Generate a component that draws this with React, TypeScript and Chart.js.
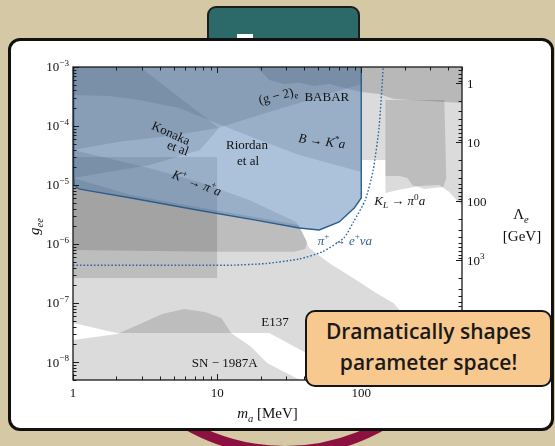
import React, { useEffect, useRef } from 'react';
import { Chart, registerables } from 'chart.js';

Chart.register(...registerables);

// ---------- data (mass in MeV, coupling g_ee) ----------
const xMin = 1;
const xMax = 500;
const yMin = 5e-9;
const yMax = 1e-3;
const lambdaConst = 5.3e-4; // Λ_e [GeV] = lambdaConst / g_ee

const xTickValues = [1, 10, 100];
const xTickLabels = ['1', '10', '100'];
const yTickValues = [1e-8, 1e-7, 1e-6, 1e-5, 1e-4, 1e-3];
const yTickExponents = ['−8', '−7', '−6', '−5', '−4', '−3'];
const lambdaTickValues = [1, 10, 100, 1000];
const lambdaTickBases = ['1', '10', '100', '10'];
const lambdaTickExponents = ['', '', '', '3'];

// π+ → e+ ν a (dotted)
const piMass = [1, 7.5, 12.7, 21.9, 37.1, 53.5, 75.7, 88.5, 106.6, 121, 133, 142];
const piCoupling = [4.4e-7, 4.4e-7, 4.4e-7, 4.7e-7, 5.6e-7, 7.4e-7, 1.27e-6, 2.4e-6, 5.6e-6, 1.8e-5, 9.6e-5, 1e-3];

// blue excluded region
const blueMass = [1.01, 1.01, 1.02, 1.1, 1.19, 2.53, 7.26, 18.1, 37.1, 51.1, 70.3, 89.4, 100, 100];
const blueCoupling = [1e-3, 1.48e-5, 1.0e-5, 8.6e-6, 8.3e-6, 6.05e-6, 3.79e-6, 2.57e-6, 1.88e-6, 1.74e-6, 2.37e-6, 4.1e-6, 6.05e-6, 1e-3];

// (g-2)e / BABAR
const babarMass = [18.9, 23.0, 29.2, 37.1, 47.2, 59.9, 76.2, 100, 133, 169, 215, 297, 500, 500];
const babarCoupling = [1e-3, 6.0e-4, 5.15e-4, 5.4e-4, 4.77e-4, 5.15e-4, 4.41e-4, 3.77e-4, 3.49e-4, 2.87e-4, 2.76e-4, 2.66e-4, 2.46e-4, 1e-3];

const gm2Mass = [1, 1, 2.09, 4.64, 10.2, 19.6, 43.5, 100, 100];
const gm2Coupling = [1e-3, 3.93e-5, 5.4e-5, 6.8e-5, 9.3e-5, 1.54e-4, 2.76e-4, 5.15e-4, 1e-3];

const konakaMass = [1, 1, 1.78, 2.87, 5.45, 10.2, 19.6, 37.1, 100, 100];
const konakaCoupling = [1e-3, 3.36e-4, 3.23e-4, 2.76e-4, 2.02e-4, 1.08e-4, 5.8e-5, 3.24e-5, 1.67e-5, 1e-3];

const wedgeMass = [1, 2.92, 10.3, 7.6, 3.42, 1];
const wedgeCoupling = [1e-3, 1e-3, 9.3e-5, 3.93e-5, 2.19e-5, 1.32e-5];

const boxMass = [1, 10, 10, 1];
const boxCoupling = [3.0e-5, 3.0e-5, 2.67e-7, 2.67e-7];

const bandMass = [1, 3.37, 7.5, 16.7, 35.4, 42.2, 40.8, 34.3, 10, 1];
const bandCoupling = [3.93e-5, 1.95e-5, 1.13e-5, 5.6e-6, 2.37e-6, 1.09e-6, 8.3e-7, 7.4e-7, 7.4e-7, 7.96e-7];

const e137Mass = [1, 2.53, 7.26, 18.1, 37.1, 43.5, 59.9, 92.3, 127, 167, 297, 133, 40.2, 23.0, 12.5, 2.02, 1];
const e137Coupling = [1.32e-5, 6.8e-6, 4.26e-6, 2.89e-6, 2.11e-6, 8.6e-7, 4.8e-7, 2.47e-7, 1.49e-7, 1.01e-7, 1.96e-8, 6.85e-9, 1.49e-8, 3.13e-8, 3.13e-8, 3.13e-8, 4.6e-8];

const snMass = [1, 2.02, 2.92, 4.15, 5.9, 8.25, 10.7, 12.5, 17.2, 22.2, 40.2, 1];
const snCoupling = [2.38e-8, 3.0e-8, 4.44e-8, 6.57e-8, 7.98e-8, 7.1e-8, 5.6e-8, 3.13e-8, 1.82e-8, 9.7e-9, 4.6e-9, 4.6e-9];

const klMass = [100, 500, 500, 457, 408, 348, 253, 184, 147, 147, 100];
const klCoupling = [1e-3, 1e-3, 4.6e-6, 5.6e-6, 7.65e-6, 1.0e-5, 9.65e-6, 8.3e-6, 7.36e-6, 2.66e-5, 2.66e-5];

const klCoreMass = [147, 377, 389, 371, 274, 226, 209, 184, 147];
const klCoreCoupling = [2.76e-4, 2.76e-4, 1.32e-5, 9.3e-6, 8.6e-6, 1.0e-5, 1.32e-5, 1.43e-5, 1.43e-5];

// ---------- annotation text (positions in data coordinates) ----------
type Seg = { t: string; i?: boolean; sup?: boolean; sub?: boolean };
const annotations: { segs: Seg[]; m: number; g: number; rot: number; color?: string }[] = [
  { segs: [{ t: '(g − 2)' }, { t: 'e', sub: true }], m: 26.4, g: 3.3e-4, rot: -14 },
  { segs: [{ t: 'BABAR' }], m: 57.7, g: 3.2e-4, rot: 0 },
  { segs: [{ t: 'Konaka' }], m: 4.78, g: 7.6e-5, rot: 24 },
  { segs: [{ t: 'et al' }], m: 5.35, g: 4.26e-5, rot: 20 },
  { segs: [{ t: 'Riordan' }], m: 16.1, g: 4.78e-5, rot: 0 },
  { segs: [{ t: 'et al' }], m: 16.4, g: 2.56e-5, rot: 0 },
  { segs: [{ t: 'B', i: true }, { t: ' → ' }, { t: 'K', i: true }, { t: '*', sup: true }, { t: 'a', i: true }], m: 53.3, g: 5.6e-5, rot: 8 },
  { segs: [{ t: 'K', i: true }, { t: '+', sup: true }, { t: ' → ' }, { t: 'π', i: true }, { t: '+', sup: true }, { t: 'a', i: true }], m: 7.24, g: 1.09e-5, rot: 21 },
  { segs: [{ t: 'K', i: true }, { t: 'L', i: true, sub: true }, { t: ' → ' }, { t: 'π', i: true }, { t: '0', sup: true }, { t: 'a', i: true }], m: 185, g: 5.4e-6, rot: 0 },
  { segs: [{ t: 'π', i: true }, { t: '+', sup: true }, { t: ' → ' }, { t: 'e', i: true }, { t: '+', sup: true }, { t: 'νa', i: true }], m: 77, g: 1.15e-6, rot: 0, color: '#2d5f91' },
  { segs: [{ t: 'E137' }], m: 25.2, g: 4.8e-8, rot: 0 },
  { segs: [{ t: 'SN − 1987A' }], m: 11.3, g: 9.7e-9, rot: 0 },
];

const SERIF = '"Liberation Serif", "Times New Roman", serif';

function drawRich(ctx: CanvasRenderingContext2D, segs: Seg[], x: number, y: number, size: number, align: 'left' | 'center' | 'right', rot: number, color: string) {
  const fontOf = (s: Seg) => `${s.i ? 'italic ' : ''}${s.sup || s.sub ? size * 0.7 : size}px ${SERIF}`;
  let w = 0;
  const ws = segs.map((s) => {
    ctx.font = fontOf(s);
    const m = ctx.measureText(s.t).width;
    w += m;
    return m;
  });
  ctx.save();
  ctx.translate(x, y);
  if (rot) ctx.rotate((rot * Math.PI) / 180);
  let cx = align === 'left' ? 0 : align === 'right' ? -w : -w / 2;
  ctx.fillStyle = color;
  ctx.textAlign = 'left';
  ctx.textBaseline = 'alphabetic';
  const base = size * 0.33;
  segs.forEach((s, k) => {
    ctx.font = fontOf(s);
    const dy = s.sup ? -size * 0.42 : s.sub ? size * 0.24 : 0;
    ctx.fillText(s.t, cx, base + dy);
    cx += ws[k];
  });
  ctx.restore();
}

const toPoints = (xs: number[], ys: number[]) => xs.map((x, i) => ({ x, y: ys[i] }));

const decorPlugin = {
  id: 'decor',
  afterDraw(chart: any) {
    const { ctx, chartArea: a, scales } = chart;
    const sx = scales.x;
    const sy = scales.y;
    const sl = scales.y2;
    ctx.save();
    ctx.strokeStyle = '#1a1a1a';
    const seg = (x1: number, y1: number, x2: number, y2: number) => {
      ctx.beginPath();
      ctx.moveTo(x1, y1);
      ctx.lineTo(x2, y2);
      ctx.stroke();
    };
    ctx.lineWidth = 1;
    for (let d = 0; d <= 2; d++) {
      for (let j = 1; j <= 9; j++) {
        const v = j * Math.pow(10, d);
        if (v < xMin || v > xMax) continue;
        const px = Math.round(sx.getPixelForValue(v)) + 0.5;
        const len = j === 1 ? 6 : 3.5;
        seg(px, a.bottom, px, a.bottom - len);
        seg(px, a.top, px, a.top + len);
      }
    }
    for (let d = -9; d <= -3; d++) {
      for (let j = 1; j <= 9; j++) {
        const v = j * Math.pow(10, d);
        if (v < yMin * 0.999 || v > yMax * 1.001) continue;
        const py = Math.round(sy.getPixelForValue(v)) + 0.5;
        const len = j === 1 ? 6 : 3.5;
        seg(a.left, py, a.left + len, py);
      }
    }
    for (let d = -1; d <= 5; d++) {
      for (let j = 1; j <= 9; j++) {
        const v = j * Math.pow(10, d);
        if (v < sl.min || v > sl.max) continue;
        const py = Math.round(sl.getPixelForValue(v)) + 0.5;
        const len = j === 1 ? 6 : 3.5;
        seg(a.right, py, a.right - len, py);
      }
    }
    ctx.lineWidth = 1.3;
    ctx.strokeRect(a.left, a.top, a.right - a.left, a.bottom - a.top);

    xTickValues.forEach((v, i) => {
      drawRich(ctx, [{ t: xTickLabels[i] }], sx.getPixelForValue(v), a.bottom + 13, 13, 'center', 0, '#111');
    });
    yTickValues.forEach((v, i) => {
      drawRich(ctx, [{ t: '10' }, { t: yTickExponents[i], sup: true }], a.left - 4, sy.getPixelForValue(v), 13, 'right', 0, '#111');
    });
    lambdaTickValues.forEach((v, i) => {
      const segs: Seg[] = [{ t: lambdaTickBases[i] }];
      if (lambdaTickExponents[i]) segs.push({ t: lambdaTickExponents[i], sup: true });
      drawRich(ctx, segs, a.right + 5, sl.getPixelForValue(v), 13, 'left', 0, '#111');
    });

    annotations.forEach((an) => {
      drawRich(ctx, an.segs, sx.getPixelForValue(an.m), sy.getPixelForValue(an.g), 13, 'center', an.rot, an.color || '#111');
    });

    drawRich(ctx, [{ t: 'g', i: true }, { t: 'ee', i: true, sub: true }], 22, (a.top + a.bottom) / 2 + 3, 15, 'center', -90, '#111');
    drawRich(ctx, [{ t: 'm', i: true }, { t: 'a', i: true, sub: true }, { t: ' [MeV]' }], (a.left + a.right) / 2, a.bottom + 33, 15, 'center', 0, '#111');
    drawRich(ctx, [{ t: 'Λ' }, { t: 'e', i: true, sub: true }], a.right + 59, a.top + 147, 15, 'center', 0, '#111');
    drawRich(ctx, [{ t: '[GeV]' }], a.right + 60, a.top + 169, 15, 'center', 0, '#111');
    ctx.restore();
  },
};

const GREY = 'rgba(0,0,0,0.14)';
const CLEAR = 'rgba(0,0,0,0)';

export default function App() {
  const ref = useRef<HTMLCanvasElement>(null);
  useEffect(() => {
    const region = (label: string, xs: number[], ys: number[], fillColor: string) => ({
      label,
      data: toPoints(xs, ys),
      showLine: true,
      fill: 'shape',
      backgroundColor: fillColor,
      borderColor: CLEAR,
      borderWidth: 0.01,
      pointRadius: 0,
      tension: 0,
    });
    const chart = new Chart(ref.current as HTMLCanvasElement, {
      type: 'scatter',
      data: {
        datasets: [
          {
            label: 'π+ → e+ν a',
            data: toPoints(piMass, piCoupling),
            showLine: true,
            fill: false,
            borderColor: '#2d65a0',
            borderWidth: 1.4,
            borderDash: [1.6, 1.9],
            pointRadius: 0,
            tension: 0.2,
          },
          {
            label: 'blue',
            data: toPoints(blueMass, blueCoupling),
            showLine: true,
            fill: 'shape',
            backgroundColor: 'rgba(70,120,175,0.45)',
            borderColor: '#2b5d8e',
            borderWidth: 1.4,
            pointRadius: 0,
            tension: 0,
          },
          region('BABAR', babarMass, babarCoupling, 'rgba(0,0,0,0.16)'),
          region('(g-2)e', gm2Mass, gm2Coupling, GREY),
          region('Konaka', konakaMass, konakaCoupling, GREY),
          region('wedge', wedgeMass, wedgeCoupling, GREY),
          region('box', boxMass, boxCoupling, GREY),
          region('band', bandMass, bandCoupling, GREY),
          region('E137', e137Mass, e137Coupling, GREY),
          region('SN1987A', snMass, snCoupling, GREY),
          region('KL', klMass, klCoupling, GREY),
          region('KLcore', klCoreMass, klCoreCoupling, GREY),
        ] as any,
      },
      options: {
        animation: false,
        responsive: false,
        devicePixelRatio: 1,
        events: [],
        layout: { padding: { left: 61, top: 25, right: 86, bottom: 48 } },
        plugins: { legend: { display: false }, tooltip: { enabled: false } },
        scales: {
          x: { type: 'logarithmic', min: xMin, max: xMax, display: false },
          y: { type: 'logarithmic', min: yMin, max: yMax, display: false },
          y2: {
            type: 'logarithmic',
            position: 'right',
            min: lambdaConst / yMax,
            max: lambdaConst / yMin,
            reverse: true,
            display: false,
          },
        },
      } as any,
      plugins: [decorPlugin],
    });
    return () => chart.destroy();
  }, []);

  return (
    <div style={{ position: 'absolute', left: 0, top: 0, width: 555, height: 446, overflow: 'hidden', background: '#d5c9a5' }}>
      <div
        style={{
          position: 'absolute',
          left: 82,
          top: 50,
          width: 406,
          height: 406,
          borderRadius: '50%',
          border: '10px solid #8d1140',
          boxSizing: 'border-box',
        }}
      />
      <div
        style={{
          position: 'absolute',
          left: 207,
          top: 6,
          width: 153,
          height: 60,
          borderRadius: 9,
          background: '#2c6a6a',
          border: '2.5px solid #1c1c1c',
          boxSizing: 'border-box',
        }}
      />
      <div style={{ position: 'absolute', left: 237, top: 34, width: 16, height: 6, background: '#ffffff' }} />
      <div
        style={{
          position: 'absolute',
          left: 8,
          top: 38,
          width: 546,
          height: 393,
          borderRadius: 12,
          border: '3px solid #111',
          background: '#ffffff',
          boxSizing: 'border-box',
        }}
      />
      <canvas ref={ref} width={536} height={386} style={{ position: 'absolute', left: 12, top: 42, width: 536, height: 386 }} />
      <div
        style={{
          position: 'absolute',
          left: 305,
          top: 310,
          width: 247,
          height: 77,
          boxSizing: 'border-box',
          border: '2.5px solid #151515',
          borderRadius: 10,
          background: '#f8c98f',
          fontFamily: '"Open Sans", Lato, sans-serif',
          fontWeight: 600,
          fontSize: 21,
          lineHeight: '31px',
          color: '#1a1a1a',
          textAlign: 'center',
          paddingTop: 4,
        }}
      >
        <div>Dramatically shapes</div>
        <div>parameter space!</div>
      </div>
    </div>
  );
}
